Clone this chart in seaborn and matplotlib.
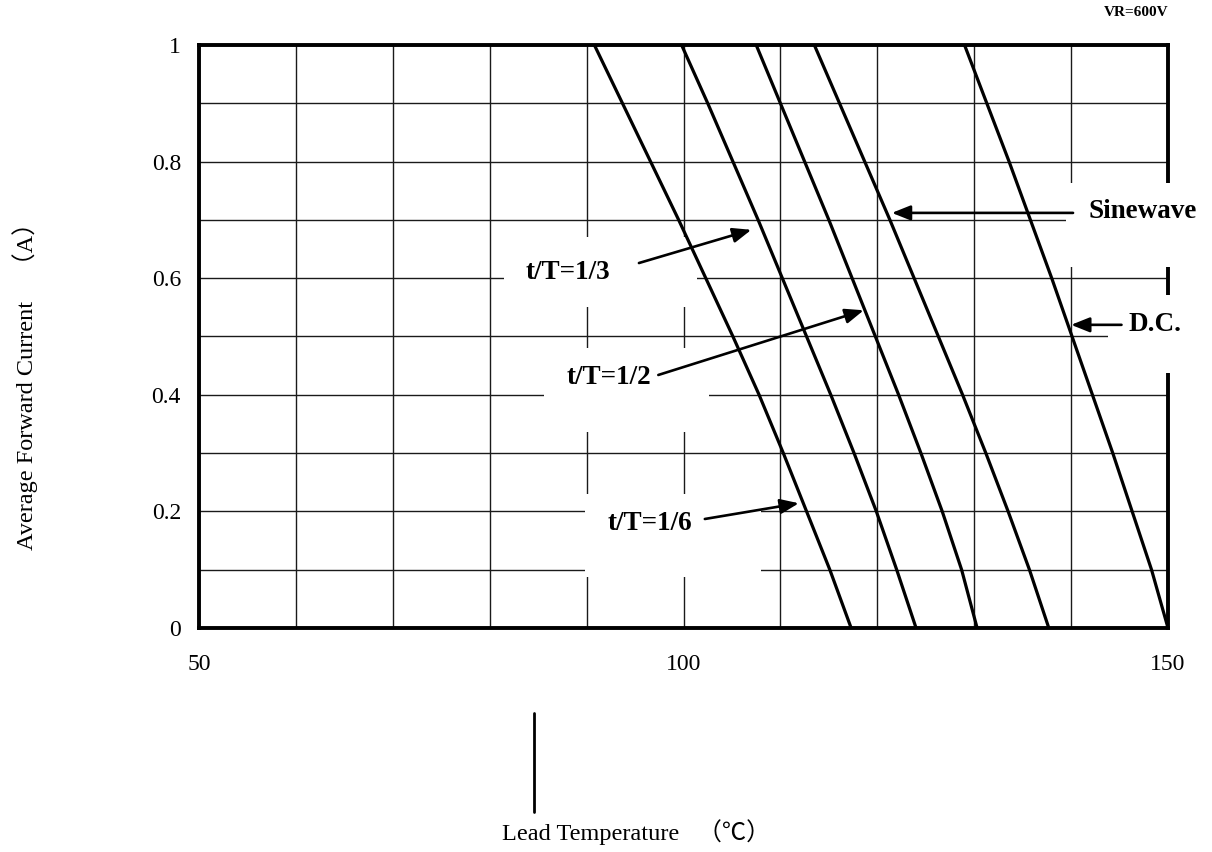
import numpy as np
import pandas as pd
import matplotlib
matplotlib.use("Agg")
import matplotlib.pyplot as plt
from matplotlib.patches import Rectangle
from matplotlib.lines import Line2D
import seaborn as sns

# ---------------- data ----------------
current = [1.0, 0.9, 0.8, 0.7, 0.6, 0.5, 0.4, 0.3, 0.2, 0.1, 0.0]
temp_1_6 = [90.8, 93.7, 96.6, 99.5, 102.3, 105.1, 107.8, 110.3, 112.7, 115.1, 117.3]
temp_1_3 = [99.8, 102.5, 105.1, 107.7, 110.2, 112.7, 115.2, 117.6, 119.9, 122.0, 124.0]
temp_1_2 = [107.5, 110.0, 112.5, 115.0, 117.4, 119.8, 122.2, 124.5, 126.7, 128.7, 130.3]
temp_sine = [113.5, 116.1, 118.7, 121.3, 123.8, 126.3, 128.8, 131.2, 133.5, 135.7, 137.7]
temp_dc = [129.0, 131.3, 133.6, 135.8, 138.0, 140.1, 142.2, 144.3, 146.3, 148.3, 150.0]
curve_names = ["t/T=1/6", "t/T=1/3", "t/T=1/2", "Sinewave", "D.C."]

x_major = [50, 100, 150]
x_major_labels = ["50", "100", "150"]
x_minor = [60, 70, 80, 90, 110, 120, 130, 140]
y_major = [0, 0.2, 0.4, 0.6, 0.8, 1.0]
y_major_labels = ["0", "0.2", "0.4", "0.6", "0.8", "1"]
y_minor = [0.1, 0.3, 0.5, 0.7, 0.9]

df = pd.DataFrame({
    "temp": temp_1_6 + temp_1_3 + temp_1_2 + temp_sine + temp_dc,
    "current": current * 5,
    "curve": sum([[n] * len(current) for n in curve_names], []),
})

# ---------------- style ----------------
sns.set_theme(style="white")
serif = ["Liberation Serif", "Noto Sans CJK JP", "DejaVu Sans"]
plt.rcParams["font.family"] = serif
plt.rcParams["axes.axisbelow"] = True

fig = plt.figure(figsize=(12.12, 8.52), dpi=100)
ax = fig.add_axes([0.1642, 0.2629, 0.7995, 0.6843])

sns.lineplot(data=df, x="temp", y="current", hue="curve",
             palette=["black"] * 5, estimator=None, sort=False,
             legend=False, lw=2.3, ax=ax, zorder=3)

ax.set_xlim(50, 150)
ax.set_ylim(0, 1)
ax.set_xticks(x_major)
ax.set_xticklabels(x_major_labels)
ax.set_xticks(x_minor, minor=True)
ax.set_yticks(y_major)
ax.set_yticklabels(y_major_labels)
ax.set_yticks(y_minor, minor=True)
ax.set_xlabel("")
ax.set_ylabel("")
ax.grid(True, which="both", color="#1a1a1a", lw=1.0)
ax.tick_params(which="both", length=0)
ax.tick_params(axis="x", pad=19, labelsize=17, labelcolor="black")
ax.tick_params(axis="y", pad=13, labelsize=17, labelcolor="black")
for s in ax.spines.values():
    s.set_visible(True)
    s.set_color("black")
    s.set_linewidth(2.8)

# white gaps behind the labels (as in the original sheet)
label_masks = [
    (81.5, 0.55, 101.4, 0.67),
    (85.6, 0.336, 102.6, 0.48),
    (89.8, 0.087, 108.0, 0.23),
    (139.5, 0.62, 150.8, 0.763),
    (143.8, 0.437, 150.8, 0.571),
]
for x0, y0, x1, y1 in label_masks:
    ax.add_patch(Rectangle((x0, y0), x1 - x0, y1 - y0, facecolor="white",
                           edgecolor="none", zorder=2.6, clip_on=False))

# annotations
arrow_kw = dict(arrowstyle="-|>,head_length=0.7,head_width=0.28", color="black",
                lw=1.9, mutation_scale=16, shrinkA=0, shrinkB=0)
annotations = [
    ("t/T=1/3", (88.1, 0.609), (95.4, 0.626), (107.0, 0.683)),
    ("t/T=1/2", (92.3, 0.429), (97.4, 0.434), (118.6, 0.545)),
    ("t/T=1/6", (96.5, 0.180), (102.2, 0.187), (111.9, 0.214)),
    ("Sinewave", (147.4, 0.714), (140.2, 0.712), (121.5, 0.712)),
    ("D.C.", (148.7, 0.520), (145.2, 0.520), (140.0, 0.520)),
]
for label, tpos, tail, head in annotations:
    ax.text(tpos[0], tpos[1], label, ha="center", va="center", fontsize=19.5,
            fontweight="bold", color="black", zorder=5, clip_on=False)
    ax.annotate("", xy=head, xytext=tail, arrowprops=arrow_kw, zorder=5,
                annotation_clip=False)

ax.text(150, 1.055, "VR=600V", ha="right", va="center", fontsize=11,
        fontweight="bold", color="black")

# axis titles
fig.text(25 / 1212, 1 - 550 / 852, "Average Forward Current\u3000（A）",
         rotation=90, ha="center", va="bottom", fontsize=17.5, color="black",
         family=serif)
fig.text(502 / 1212, 1 - 832 / 852, "Lead Temperature   （℃）",
         ha="left", va="center", fontsize=17.5, color="black", family=serif)
fig.add_artist(Line2D([534 / 1212, 534 / 1212], [1 - 713 / 852, 1 - 812 / 852],
                      transform=fig.transFigure, color="black", lw=2))

fig.savefig("out.png", dpi=100, facecolor="white")
